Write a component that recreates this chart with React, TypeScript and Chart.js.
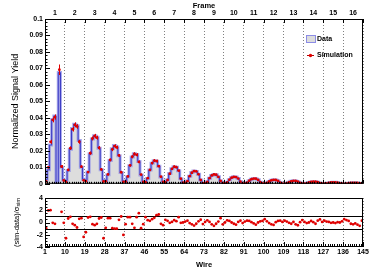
import React, { useEffect, useRef } from 'react';
import { Chart, registerables } from 'chart.js';

Chart.register(...registerables);

const FONT = '"Liberation Sans", Arial, Helvetica, sans-serif';
Chart.defaults.font.family = FONT;

// ---------------- data ----------------
const wireMin = 1;
const wireMax = 145;
const wireTickValues = [1, 10, 19, 28, 37, 46, 55, 64, 73, 82, 91, 100, 109, 118, 127, 136, 145];
const frameLabels = ['1', '2', '3', '4', '5', '6', '7', '8', '9', '10', '11', '12', '13', '14', '15', '16'];
const frameCenters = [5.5, 14.5, 23.5, 32.5, 41.5, 50.5, 59.5, 68.5, 77.5, 86.5, 95.5, 104.5, 113.5, 122.5, 131.5, 140.5];

// normalized signal yield of the data, one value per wire (1..144)
const dataYield = [
  0.0025, 0.0085, 0.0235, 0.0390, 0.0412, 0.0000, 0.0675, 0.0100, 0.0022,
  0.0020, 0.0080, 0.0210, 0.0335, 0.0362, 0.0352, 0.0262, 0.0100, 0.0028,
  0.0020, 0.0072, 0.0182, 0.0272, 0.0292, 0.0282, 0.0215, 0.0085, 0.0022,
  0.0017, 0.0055, 0.0142, 0.0212, 0.0232, 0.0224, 0.0170, 0.0068, 0.0017,
  0.0013, 0.0043, 0.0110, 0.0163, 0.0182, 0.0178, 0.0136, 0.0054, 0.0013,
  0.0010, 0.0032, 0.0083, 0.0124, 0.0140, 0.0137, 0.0106, 0.0042, 0.0010,
  0.0007, 0.0023, 0.0062, 0.0092, 0.0104, 0.0101, 0.0079, 0.0031, 0.0006,
  0.0005, 0.0017, 0.0046, 0.0068, 0.0077, 0.0075, 0.0058, 0.0023, 0.0004,
  0.0004, 0.0012, 0.0034, 0.0050, 0.0057, 0.0055, 0.0043, 0.0017, 0.0003,
  0.0003, 0.0009, 0.0025, 0.0037, 0.0043, 0.0041, 0.0032, 0.0013, 0.0002,
  0.0002, 0.0007, 0.0019, 0.0028, 0.0032, 0.0031, 0.0024, 0.0010, 0.0002,
  0.0002, 0.0005, 0.0014, 0.0021, 0.0024, 0.0023, 0.0018, 0.0007, 0.0001,
  0.0001, 0.0004, 0.0010, 0.0015, 0.0018, 0.0017, 0.0013, 0.0005, 0.0001,
  0.0001, 0.0003, 0.0008, 0.0011, 0.0013, 0.0013, 0.0010, 0.0004, 0.0001,
  0.0001, 0.0002, 0.0005, 0.0008, 0.0009, 0.0009, 0.0007, 0.0003, 0.0000,
  0.0000, 0.0001, 0.0004, 0.0005, 0.0006, 0.0006, 0.0005, 0.0002, 0.0000,
];

// simulation yield per wire
const simYield: (number | null)[] = [
  0.0015, 0.0100, 0.0255, 0.0388, 0.0405, null, 0.0692, 0.0105, 0.0020,
  0.0012, 0.0084, 0.0216, 0.0331, 0.0358, 0.0348, 0.0255, 0.0104, 0.0021,
  0.0016, 0.0071, 0.0186, 0.0275, 0.0290, 0.0280, 0.0218, 0.0087, 0.0014,
  0.0015, 0.0057, 0.0145, 0.0209, 0.0229, 0.0221, 0.0172, 0.0070, 0.0012,
  0.0013, 0.0045, 0.0112, 0.0164, 0.0181, 0.0176, 0.0133, 0.0056, 0.0011,
  0.0010, 0.0034, 0.0084, 0.0126, 0.0141, 0.0138, 0.0107, 0.0043, 0.0012,
  0.0008, 0.0023, 0.0061, 0.0091, 0.0104, 0.0101, 0.0080, 0.0031, 0.0007,
  0.0005, 0.0016, 0.0046, 0.0067, 0.0077, 0.0076, 0.0058, 0.0023, 0.0004,
  0.0004, 0.0012, 0.0034, 0.0051, 0.0057, 0.0055, 0.0042, 0.0017, 0.0004,
  0.0003, 0.0009, 0.0025, 0.0037, 0.0042, 0.0041, 0.0032, 0.0013, 0.0002,
  0.0002, 0.0007, 0.0019, 0.0028, 0.0032, 0.0031, 0.0024, 0.0010, 0.0002,
  0.0002, 0.0005, 0.0014, 0.0021, 0.0024, 0.0023, 0.0018, 0.0007, 0.0001,
  0.0001, 0.0004, 0.0010, 0.0015, 0.0018, 0.0017, 0.0013, 0.0005, 0.0001,
  0.0001, 0.0003, 0.0008, 0.0011, 0.0013, 0.0013, 0.0010, 0.0004, 0.0001,
  0.0001, 0.0002, 0.0005, 0.0008, 0.0009, 0.0009, 0.0007, 0.0003, 0.0001,
  0.0000, 0.0001, 0.0004, 0.0005, 0.0006, 0.0006, 0.0005, 0.0002, 0.0001,
];

// simulation uncertainty per wire
const simError = [
  0.0004, 0.0007, 0.0012, 0.0015, 0.0016, 0.0000, 0.0032, 0.0008, 0.0004,
  0.0003, 0.0007, 0.0011, 0.0014, 0.0015, 0.0014, 0.0012, 0.0008, 0.0003,
  0.0003, 0.0006, 0.0010, 0.0012, 0.0013, 0.0012, 0.0011, 0.0007, 0.0003,
  0.0003, 0.0005, 0.0009, 0.0011, 0.0011, 0.0011, 0.0009, 0.0006, 0.0003,
  0.0002, 0.0005, 0.0008, 0.0009, 0.0010, 0.0010, 0.0008, 0.0005, 0.0002,
  0.0002, 0.0004, 0.0007, 0.0008, 0.0009, 0.0009, 0.0007, 0.0004, 0.0002,
  0.0002, 0.0003, 0.0006, 0.0007, 0.0007, 0.0007, 0.0006, 0.0004, 0.0002,
  0.0001, 0.0003, 0.0005, 0.0006, 0.0006, 0.0006, 0.0005, 0.0003, 0.0001,
  0.0001, 0.0002, 0.0004, 0.0005, 0.0005, 0.0005, 0.0004, 0.0003, 0.0001,
  0.0001, 0.0002, 0.0003, 0.0004, 0.0004, 0.0004, 0.0004, 0.0002, 0.0001,
  0.0001, 0.0002, 0.0003, 0.0004, 0.0004, 0.0004, 0.0003, 0.0002, 0.0001,
  0.0001, 0.0001, 0.0003, 0.0003, 0.0003, 0.0003, 0.0003, 0.0002, 0.0001,
  0.0001, 0.0001, 0.0002, 0.0003, 0.0003, 0.0003, 0.0002, 0.0001, 0.0001,
  0.0001, 0.0001, 0.0002, 0.0002, 0.0002, 0.0002, 0.0002, 0.0001, 0.0001,
  0.0001, 0.0001, 0.0002, 0.0002, 0.0002, 0.0002, 0.0002, 0.0001, 0.0001,
  0.0001, 0.0001, 0.0001, 0.0002, 0.0002, 0.0002, 0.0001, 0.0001, 0.0001,
];

// (sim - data) / sigma_sim per wire
const residuals: (number | null)[] = [
  -0.93, 1.97, 2.02, -0.06, -0.22, null, null, 1.75, -0.06,
  -2.57, 0.65, 0.92, -0.22, -0.44, -0.82, 0.60, 0.71, -2.35,
  -1.59, 0.82, 0.92, -0.27, -0.44, -0.22, 0.65, 0.82, -2.57,
  -0.87, 0.71, 0.71, -0.93, -1.00, -1.00, 0.43, 0.98, -2.03,
  -0.27, 0.87, 0.87, -0.22, -0.87, 0.87, 1.52, -0.93, -0.27,
  0.87, 0.38, 0.27, 0.54, 0.76, 1.20, 1.31, -0.22, -0.44,
  0.43, 0.27, -0.06, 0.10, 0.38, 0.21, 0.87, -0.06, 0.00,
  0.15, 0.30, -0.10, -0.30, -0.50, -0.20, 0.20, 0.45, -0.25,
  0.10, 0.35, 0.10, -0.30, -0.55, -0.20, 0.15, 0.70, -0.30,
  0.00, 0.35, 0.25, 0.00, -0.20, -0.35, 0.10, 0.30, -0.10,
  0.15, 0.30, 0.25, 0.05, -0.15, -0.35, 0.00, 0.20, 0.25,
  0.55, 0.20, -0.10, -0.30, -0.40, 0.05, 0.25, 0.30, 0.10,
  0.30, 0.15, -0.05, -0.20, 0.10, -0.30, -0.45, 0.05, 0.40,
  0.10, -0.10, 0.00, 0.25, 0.05, -0.20, 0.30, 0.50, 0.10,
  0.30, 0.15, 0.10, -0.05, 0.00, -0.10, 0.05, 0.00, 0.20,
  0.55, 0.40, 0.25, -0.20, -0.30, -0.15, -0.35, -0.55, 0.30,
];

const residualBand = [-1, 1];
const yieldRange = [0, 0.1];
const residualRange = [-4, 4];

// ---------------- helpers ----------------
const histPoints = [
  { x: wireMin, y: dataYield[0] },
  ...dataYield.map((v, i) => ({ x: wireMin + i + 0.5, y: v })),
  { x: wireMax, y: dataYield[dataYield.length - 1] },
];
const simPoints = simYield
  .map((v, i) => (v == null ? null : { x: wireMin + i + 0.5, y: v }))
  .filter((p) => p !== null) as { x: number; y: number }[];
const resPoints = residuals
  .map((v, i) => (v == null ? null : { x: wireMin + i + 0.5, y: v }))
  .filter((p) => p !== null) as { x: number; y: number }[];

function seg(ctx: CanvasRenderingContext2D, x1: number, y1: number, x2: number, y2: number) {
  ctx.beginPath();
  ctx.moveTo(x1, y1);
  ctx.lineTo(x2, y2);
  ctx.stroke();
}
const px = (v: number) => Math.round(v) + 0.5;

const RED = '#e00000';

const topDecor = {
  id: 'topDecor',
  afterDatasetsDraw(chart: any) {
    const { ctx, chartArea: a } = chart;
    const xs = chart.scales.x;
    const ys = chart.scales.y;
    ctx.save();
    // simulation error bars
    ctx.strokeStyle = RED;
    ctx.lineWidth = 1;
    simYield.forEach((v, i) => {
      const e = simError[i];
      if (v == null || !e) return;
      const x = px(xs.getPixelForValue(wireMin + i + 0.5));
      seg(ctx, x, ys.getPixelForValue(v - e), x, ys.getPixelForValue(v + e));
    });
    // frame
    ctx.strokeStyle = '#000';
    ctx.strokeRect(a.left + 0.5, a.top + 0.5, a.right - a.left - 1, a.bottom - a.top - 1);
    // y ticks
    for (let i = 0; i <= 50; i++) {
      const y = px(ys.getPixelForValue(i / 500));
      seg(ctx, a.left, y, a.left + (i % 5 === 0 ? 5 : 2.5), y);
    }
    // top ticks at frame boundaries
    wireTickValues.forEach((w) => {
      const x = px(xs.getPixelForValue(w));
      seg(ctx, x, a.top, x, a.top + 4);
    });
    // bottom ticks
    for (let w = wireMin; w <= wireMax; w++) {
      const x = px(xs.getPixelForValue(w));
      seg(ctx, x, a.bottom, x, a.bottom - ((w - 1) % 9 === 0 ? 4 : 2));
    }
    // legend
    const lx = a.right - 57;
    const ly1 = a.top + 20;
    const ly2 = a.top + 36;
    ctx.fillStyle = '#dcdcdc';
    ctx.fillRect(lx, ly1 - 3.5, 9, 7);
    ctx.strokeStyle = '#8c8ce6';
    ctx.strokeRect(lx + 0.5, ly1 - 3.5, 9, 7);
    ctx.strokeStyle = '#b00000';
    seg(ctx, lx + 1, ly2 + 0.5, lx + 8, ly2 + 0.5);
    ctx.fillStyle = RED;
    ctx.beginPath();
    ctx.arc(lx + 4.5, ly2 + 0.5, 1.7, 0, Math.PI * 2);
    ctx.fill();
    ctx.fillStyle = '#000';
    ctx.font = `bold 7px ${FONT}`;
    ctx.textBaseline = 'middle';
    ctx.textAlign = 'left';
    ctx.fillText('Data', lx + 11, ly1 + 0.5);
    ctx.fillText('Simulation', lx + 11, ly2 + 0.5);
    ctx.restore();
  },
};

const bottomDecor = {
  id: 'bottomDecor',
  beforeDatasetsDraw(chart: any) {
    const { ctx, chartArea: a } = chart;
    const ys = chart.scales.y;
    ctx.save();
    ctx.strokeStyle = '#000';
    ctx.lineWidth = 1;
    residualBand.forEach((v) => {
      const y = px(ys.getPixelForValue(v));
      seg(ctx, a.left, y, a.right, y);
    });
    ctx.restore();
  },
  afterDatasetsDraw(chart: any) {
    const { ctx, chartArea: a } = chart;
    const xs = chart.scales.x;
    const ys = chart.scales.y;
    ctx.save();
    ctx.strokeStyle = '#000';
    ctx.lineWidth = 1;
    ctx.strokeRect(a.left + 0.5, a.top + 0.5, a.right - a.left - 1, a.bottom - a.top - 1);
    for (let w = wireMin; w <= wireMax; w++) {
      const x = px(xs.getPixelForValue(w));
      seg(ctx, x, a.bottom, x, a.bottom - ((w - 1) % 9 === 0 ? 5 : 3));
    }
    for (let i = -8; i <= 8; i++) {
      const y = px(ys.getPixelForValue(i * 0.5));
      seg(ctx, a.left, y, a.left + (i % 4 === 0 ? 5 : 2.5), y);
    }
    // y title with subscript
    const main = '(sim-data)/σ';
    const sub = 'sim';
    const mainFont = `7.5px ${FONT}`;
    const subFont = `5.5px ${FONT}`;
    ctx.font = mainFont;
    const mw = ctx.measureText(main).width;
    ctx.font = subFont;
    const sw = ctx.measureText(sub).width;
    const total = mw + sw;
    ctx.translate(16.5, (a.top + a.bottom) / 2);
    ctx.rotate(-Math.PI / 2);
    ctx.fillStyle = '#000';
    ctx.textBaseline = 'middle';
    ctx.textAlign = 'left';
    ctx.font = mainFont;
    ctx.fillText(main, -total / 2, 0);
    ctx.font = subFont;
    ctx.fillText(sub, -total / 2 + mw, 2.2);
    ctx.restore();
  },
};

const tickFont = { size: 7, weight: 'bold' as const };

export default function App() {
  const topRef = useRef<HTMLCanvasElement>(null);
  const botRef = useRef<HTMLCanvasElement>(null);

  useEffect(() => {
    const top = new Chart(topRef.current as HTMLCanvasElement, {
      type: 'line',
      data: {
        datasets: [
          {
            label: 'Simulation',
            data: simPoints,
            showLine: false,
            pointRadius: 1.4,
            pointBackgroundColor: RED,
            pointBorderWidth: 0,
            order: 0,
            xAxisID: 'x',
            yAxisID: 'y',
          } as any,
          {
            label: 'DataLine',
            data: histPoints,
            stepped: 'middle',
            borderColor: '#3a3ac4',
            borderWidth: 1,
            pointRadius: 0,
            fill: false,
            order: 1,
            xAxisID: 'x',
            yAxisID: 'y',
          },
          {
            label: 'Data',
            data: histPoints,
            stepped: 'middle',
            borderColor: 'rgba(140,140,230,0.75)',
            borderWidth: 3,
            pointRadius: 0,
            fill: 'origin',
            backgroundColor: '#dddddd',
            order: 2,
            xAxisID: 'x',
            yAxisID: 'y',
          },
        ],
      },
      options: {
        animation: false,
        responsive: false,
        events: [],
        layout: { padding: { left: 0, right: 11, top: 0, bottom: 0 } },
        plugins: { legend: { display: false }, tooltip: { enabled: false } },
        scales: {
          x: {
            type: 'linear',
            position: 'bottom',
            min: wireMin,
            max: wireMax,
            afterBuildTicks: (s: any) => {
              s.ticks = wireTickValues.map((v) => ({ value: v }));
            },
            ticks: { display: false },
            grid: { color: '#808080', lineWidth: 1, drawTicks: false },
            border: { display: false, dash: [1, 2] },
            afterFit: (s: any) => {
              s.height = 3;
            },
          },
          xTop: {
            type: 'linear',
            position: 'top',
            min: wireMin,
            max: wireMax,
            afterBuildTicks: (s: any) => {
              s.ticks = frameCenters.map((v) => ({ value: v }));
            },
            ticks: {
              callback: (_v: any, i: number) => frameLabels[i],
              font: tickFont,
              color: '#000',
              padding: 1.5,
              autoSkip: false,
              maxRotation: 0,
            },
            grid: { display: false, drawTicks: false },
            border: { display: false },
            title: {
              display: true,
              text: 'Frame',
              color: '#000',
              font: { size: 7.5, weight: 'bold' },
              padding: { top: 1, bottom: 0 },
            },
            afterFit: (s: any) => {
              s.height = 19;
            },
          },
          y: {
            type: 'linear',
            min: yieldRange[0],
            max: yieldRange[1],
            ticks: {
              stepSize: 0.01,
              autoSkip: false,
              font: tickFont,
              color: '#000',
              padding: 2,
              callback: (v: any) => {
                const n = Math.round(Number(v) * 100) / 100;
                return n === 0 ? '0' : String(n);
              },
            },
            grid: { display: false, drawTicks: false },
            border: { display: false },
            title: {
              display: true,
              text: 'Normalized Signal Yield',
              color: '#000',
              font: { size: 9 },
              padding: { top: 10.5, bottom: 0 },
            },
            afterFit: (s: any) => {
              s.width = 45;
            },
          },
        },
      } as any,
      plugins: [topDecor],
    });

    const bottom = new Chart(botRef.current as HTMLCanvasElement, {
      type: 'line',
      data: {
        datasets: [
          {
            label: 'Residual',
            data: resPoints,
            showLine: false,
            pointRadius: 1.4,
            pointBackgroundColor: RED,
            pointBorderWidth: 0,
          } as any,
        ],
      },
      options: {
        animation: false,
        responsive: false,
        events: [],
        layout: { padding: { left: 0, right: 11, top: 8, bottom: 0 } },
        plugins: { legend: { display: false }, tooltip: { enabled: false } },
        scales: {
          x: {
            type: 'linear',
            min: wireMin,
            max: wireMax,
            afterBuildTicks: (s: any) => {
              s.ticks = wireTickValues.map((v) => ({ value: v }));
            },
            ticks: {
              font: tickFont,
              color: '#000',
              padding: 1,
              autoSkip: false,
              maxRotation: 0,
              callback: (v: any) => String(v),
            },
            grid: { color: '#808080', lineWidth: 1, drawTicks: false },
            border: { display: false, dash: [1, 2] },
            title: {
              display: true,
              text: 'Wire',
              color: '#000',
              font: { size: 7.5, weight: 'bold' },
              padding: { top: 0, bottom: 2.5 },
            },
            afterFit: (s: any) => {
              s.height = 25;
            },
          },
          y: {
            type: 'linear',
            min: residualRange[0],
            max: residualRange[1],
            ticks: {
              stepSize: 2,
              autoSkip: false,
              font: tickFont,
              color: '#000',
              padding: 2,
              callback: (v: any) => String(v),
            },
            grid: { display: false, drawTicks: false },
            border: { display: false },
            afterFit: (s: any) => {
              s.width = 45;
            },
          },
        },
      } as any,
      plugins: [bottomDecor],
    });

    return () => {
      top.destroy();
      bottom.destroy();
    };
  }, []);

  return (
    <div style={{ position: 'fixed', left: 0, top: 0, width: 374, height: 272, background: '#fff' }}>
      <canvas
        ref={topRef}
        width={374}
        height={190}
        style={{ position: 'absolute', left: 0, top: 0, width: 374, height: 190 }}
      />
      <canvas
        ref={botRef}
        width={374}
        height={82}
        style={{ position: 'absolute', left: 0, top: 190, width: 374, height: 82 }}
      />
    </div>
  );
}
